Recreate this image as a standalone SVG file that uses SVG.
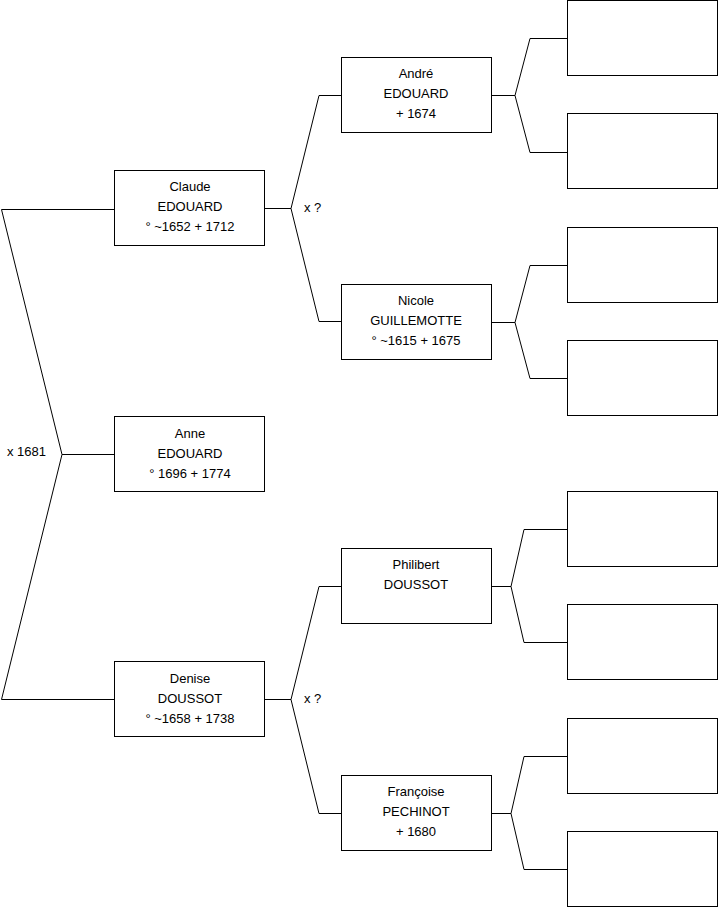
<svg xmlns="http://www.w3.org/2000/svg" width="719" height="908" viewBox="0 0 719 908">
<style>
.box{fill:#fff;stroke:#000;stroke-width:1}
.t{font-family:"Liberation Sans",Arial,sans-serif;font-size:13px;fill:#000;text-anchor:middle}
.l{font-family:"Liberation Sans",Arial,sans-serif;font-size:13px;fill:#000}
.c{fill:none;stroke:#000;stroke-width:1}
</style>
<rect width="719" height="908" fill="#fff"/>
<g id="connectors">
<polyline class="c" points="114,454.5 62,454.5"/>
<polyline class="c" points="114,209.5 1.5,209.5 62,454.5 1.5,699.5 114,699.5"/>
<polyline class="c" points="265,208.5 291,208.5"/>
<polyline class="c" points="341,95.5 319,95.5 291,208.5 319,321.5 341,321.5"/>
<polyline class="c" points="265,699.5 291,699.5"/>
<polyline class="c" points="341,586.5 319,586.5 291,699.5 319,813.5 341,813.5"/>
<polyline class="c" points="491,95.5 515,95.5"/>
<polyline class="c" points="567,38.5 530,38.5 515,95.5 530,152.5 567,152.5"/>
<polyline class="c" points="491,322.5 515,322.5"/>
<polyline class="c" points="567,265.5 530,265.5 515,322.5 530,378.5 567,378.5"/>
<polyline class="c" points="491,586.5 511,586.5"/>
<polyline class="c" points="567,529.5 524,529.5 511,586.5 524,642.5 567,642.5"/>
<polyline class="c" points="491,813.5 511,813.5"/>
<polyline class="c" points="567,756.5 524,756.5 511,813.5 524,869.5 567,869.5"/>
<text class="l" x="304" y="212">x ?</text>
<text class="l" x="304" y="703">x ?</text>
<text class="l" x="7" y="456">x 1681</text>
</g>
<g id="anne"><rect class="box" x="114.5" y="416.5" width="150" height="75"/>
<text class="t" x="190" y="438">Anne</text><text class="t" x="190" y="458">EDOUARD</text><text class="t" x="190" y="478">° 1696 + 1774</text></g>
<g id="claude"><rect class="box" x="114.5" y="170.5" width="150" height="75"/>
<text class="t" x="190" y="191">Claude</text><text class="t" x="190" y="211">EDOUARD</text><text class="t" x="190" y="231">° ~1652 + 1712</text></g>
<g id="denise"><rect class="box" x="114.5" y="661.5" width="150" height="75"/>
<text class="t" x="190" y="683">Denise</text><text class="t" x="190" y="703">DOUSSOT</text><text class="t" x="190" y="723">° ~1658 + 1738</text></g>
<g id="andre"><rect class="box" x="341.5" y="57.5" width="150" height="75"/>
<text class="t" x="416" y="78">André</text><text class="t" x="416" y="98">EDOUARD</text><text class="t" x="416" y="118">+ 1674</text></g>
<g id="nicole"><rect class="box" x="341.5" y="284.5" width="150" height="75"/>
<text class="t" x="416" y="305">Nicole</text><text class="t" x="416" y="325">GUILLEMOTTE</text><text class="t" x="416" y="345">° ~1615 + 1675</text></g>
<g id="philibert"><rect class="box" x="341.5" y="548.5" width="150" height="75"/>
<text class="t" x="416" y="569">Philibert</text><text class="t" x="416" y="589">DOUSSOT</text></g>
<g id="francoise"><rect class="box" x="341.5" y="775.5" width="150" height="75"/>
<text class="t" x="416" y="796">Françoise</text><text class="t" x="416" y="816">PECHINOT</text><text class="t" x="416" y="836">+ 1680</text></g>
<g id="e1"><rect class="box" x="567.5" y="0.5" width="150" height="75"/></g>
<g id="e2"><rect class="box" x="567.5" y="113.5" width="150" height="75"/></g>
<g id="e3"><rect class="box" x="567.5" y="227.5" width="150" height="75"/></g>
<g id="e4"><rect class="box" x="567.5" y="340.5" width="150" height="75"/></g>
<g id="e5"><rect class="box" x="567.5" y="491.5" width="150" height="75"/></g>
<g id="e6"><rect class="box" x="567.5" y="604.5" width="150" height="75"/></g>
<g id="e7"><rect class="box" x="567.5" y="718.5" width="150" height="75"/></g>
<g id="e8"><rect class="box" x="567.5" y="831.5" width="150" height="75"/></g>
</svg>
